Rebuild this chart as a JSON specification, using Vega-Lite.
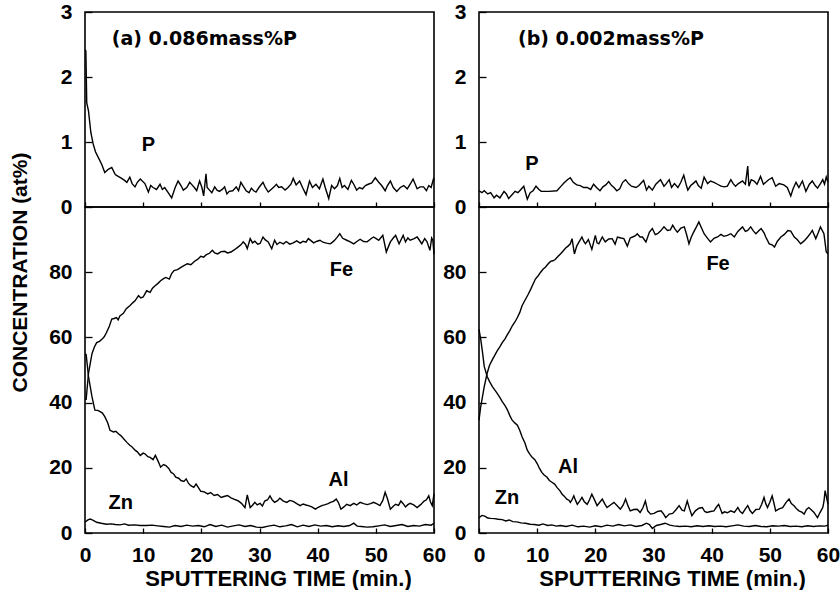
{
  "$schema": "https://vega.github.io/schema/vega-lite/v6.json",
  "background": "white",
  "padding": {"left": 8, "top": 0, "right": 0, "bottom": 0},
  "spacing": -6,
  "datasets": {
    "Pa": [{"t":0,"v":2.42},{"t":0.15,"v":2.4},{"t":0.3,"v":1.6},{"t":0.6,"v":1.48},{"t":1.0,"v":1.15},{"t":1.4,"v":0.97},{"t":1.8,"v":0.85},{"t":2.3,"v":0.76},{"t":2.9,"v":0.65},{"t":3.4,"v":0.53},{"t":4.0,"v":0.58},{"t":4.6,"v":0.61},{"t":5.2,"v":0.5},{"t":5.7,"v":0.47},{"t":6.3,"v":0.44},{"t":6.8,"v":0.41},{"t":7.2,"v":0.38},{"t":7.7,"v":0.46},{"t":8.1,"v":0.36},{"t":8.6,"v":0.31},{"t":9.0,"v":0.38},{"t":9.5,"v":0.43},{"t":10.3,"v":0.36},{"t":10.9,"v":0.23},{"t":11.3,"v":0.33},{"t":11.7,"v":0.3},{"t":12.3,"v":0.27},{"t":12.9,"v":0.35},{"t":13.3,"v":0.27},{"t":13.7,"v":0.3},{"t":14.3,"v":0.22},{"t":14.9,"v":0.14},{"t":15.5,"v":0.3},{"t":16.0,"v":0.4},{"t":16.5,"v":0.33},{"t":16.9,"v":0.26},{"t":17.5,"v":0.3},{"t":18.0,"v":0.38},{"t":18.4,"v":0.34},{"t":18.8,"v":0.3},{"t":19.2,"v":0.25},{"t":19.7,"v":0.4},{"t":20.1,"v":0.3},{"t":20.4,"v":0.17},{"t":20.8,"v":0.51},{"t":21.0,"v":0.3},{"t":21.4,"v":0.26},{"t":21.8,"v":0.22},{"t":22.3,"v":0.31},{"t":22.7,"v":0.26},{"t":23.1,"v":0.24},{"t":23.6,"v":0.27},{"t":24.0,"v":0.31},{"t":24.4,"v":0.2},{"t":24.8,"v":0.24},{"t":25.4,"v":0.25},{"t":26.0,"v":0.31},{"t":26.4,"v":0.25},{"t":26.8,"v":0.38},{"t":27.2,"v":0.32},{"t":27.7,"v":0.25},{"t":28.2,"v":0.22},{"t":28.6,"v":0.29},{"t":29.0,"v":0.25},{"t":29.4,"v":0.23},{"t":29.9,"v":0.3},{"t":30.6,"v":0.38},{"t":31.0,"v":0.3},{"t":31.5,"v":0.23},{"t":32.0,"v":0.27},{"t":32.5,"v":0.31},{"t":32.9,"v":0.35},{"t":33.3,"v":0.3},{"t":33.8,"v":0.31},{"t":34.4,"v":0.26},{"t":34.9,"v":0.3},{"t":35.4,"v":0.35},{"t":35.8,"v":0.44},{"t":36.3,"v":0.34},{"t":36.9,"v":0.4},{"t":37.4,"v":0.3},{"t":38.0,"v":0.19},{"t":38.6,"v":0.4},{"t":39.1,"v":0.3},{"t":39.7,"v":0.35},{"t":40.3,"v":0.28},{"t":40.9,"v":0.43},{"t":41.3,"v":0.3},{"t":41.9,"v":0.13},{"t":42.4,"v":0.33},{"t":42.9,"v":0.28},{"t":43.4,"v":0.33},{"t":43.8,"v":0.44},{"t":44.2,"v":0.3},{"t":44.6,"v":0.33},{"t":45.2,"v":0.27},{"t":45.8,"v":0.41},{"t":46.2,"v":0.35},{"t":46.7,"v":0.26},{"t":47.2,"v":0.3},{"t":47.7,"v":0.28},{"t":48.2,"v":0.33},{"t":48.7,"v":0.35},{"t":49.3,"v":0.37},{"t":49.9,"v":0.45},{"t":50.5,"v":0.38},{"t":51.0,"v":0.33},{"t":51.6,"v":0.25},{"t":52.0,"v":0.33},{"t":52.5,"v":0.4},{"t":53.0,"v":0.3},{"t":53.6,"v":0.24},{"t":54.2,"v":0.3},{"t":54.8,"v":0.33},{"t":55.4,"v":0.28},{"t":55.9,"v":0.35},{"t":56.4,"v":0.43},{"t":57.1,"v":0.28},{"t":57.6,"v":0.31},{"t":58.2,"v":0.31},{"t":58.7,"v":0.25},{"t":59.1,"v":0.33},{"t":59.5,"v":0.3},{"t":59.9,"v":0.43},{"t":60,"v":0.4}],
    "Pb": [{"t":0,"v":0.25},{"t":0.5,"v":0.22},{"t":0.9,"v":0.25},{"t":1.5,"v":0.2},{"t":2.0,"v":0.22},{"t":2.6,"v":0.14},{"t":3.0,"v":0.18},{"t":3.6,"v":0.14},{"t":4.3,"v":0.24},{"t":4.7,"v":0.2},{"t":5.1,"v":0.13},{"t":5.6,"v":0.18},{"t":6.2,"v":0.24},{"t":6.7,"v":0.22},{"t":7.2,"v":0.27},{"t":7.7,"v":0.32},{"t":8.3,"v":0.12},{"t":8.8,"v":0.22},{"t":9.3,"v":0.25},{"t":9.8,"v":0.32},{"t":10.3,"v":0.27},{"t":10.7,"v":0.24},{"t":12.0,"v":0.24},{"t":13.4,"v":0.25},{"t":14.0,"v":0.31},{"t":14.6,"v":0.37},{"t":15.2,"v":0.42},{"t":15.7,"v":0.45},{"t":16.2,"v":0.38},{"t":16.8,"v":0.34},{"t":17.4,"v":0.33},{"t":18.0,"v":0.3},{"t":18.6,"v":0.3},{"t":19.2,"v":0.27},{"t":19.7,"v":0.35},{"t":20.2,"v":0.3},{"t":20.8,"v":0.25},{"t":21.3,"v":0.31},{"t":21.8,"v":0.34},{"t":22.3,"v":0.39},{"t":22.8,"v":0.33},{"t":23.2,"v":0.3},{"t":23.7,"v":0.25},{"t":24.2,"v":0.28},{"t":24.7,"v":0.38},{"t":25.2,"v":0.42},{"t":25.7,"v":0.36},{"t":26.2,"v":0.32},{"t":27.0,"v":0.3},{"t":27.5,"v":0.33},{"t":28.0,"v":0.38},{"t":28.3,"v":0.41},{"t":28.8,"v":0.26},{"t":29.2,"v":0.32},{"t":29.8,"v":0.26},{"t":30.4,"v":0.35},{"t":31.2,"v":0.42},{"t":31.8,"v":0.32},{"t":32.2,"v":0.36},{"t":32.7,"v":0.42},{"t":33.1,"v":0.3},{"t":33.6,"v":0.36},{"t":34.2,"v":0.3},{"t":34.7,"v":0.38},{"t":35.2,"v":0.49},{"t":35.6,"v":0.35},{"t":35.9,"v":0.26},{"t":36.4,"v":0.33},{"t":36.8,"v":0.36},{"t":37.3,"v":0.4},{"t":37.7,"v":0.33},{"t":38.2,"v":0.29},{"t":38.7,"v":0.46},{"t":39.3,"v":0.36},{"t":39.8,"v":0.4},{"t":40.4,"v":0.38},{"t":41.0,"v":0.35},{"t":41.6,"v":0.32},{"t":42.2,"v":0.31},{"t":42.7,"v":0.32},{"t":43.3,"v":0.42},{"t":43.7,"v":0.36},{"t":44.1,"v":0.32},{"t":44.6,"v":0.36},{"t":45.3,"v":0.4},{"t":45.8,"v":0.35},{"t":46.2,"v":0.63},{"t":46.4,"v":0.32},{"t":46.8,"v":0.42},{"t":47.3,"v":0.4},{"t":47.8,"v":0.35},{"t":48.4,"v":0.47},{"t":48.9,"v":0.35},{"t":49.3,"v":0.38},{"t":49.8,"v":0.42},{"t":50.4,"v":0.45},{"t":51.0,"v":0.32},{"t":51.6,"v":0.36},{"t":52.4,"v":0.34},{"t":53.0,"v":0.3},{"t":53.6,"v":0.17},{"t":54.0,"v":0.28},{"t":54.5,"v":0.38},{"t":55.0,"v":0.3},{"t":55.6,"v":0.4},{"t":56.2,"v":0.24},{"t":56.8,"v":0.35},{"t":57.3,"v":0.4},{"t":57.8,"v":0.33},{"t":58.2,"v":0.29},{"t":58.7,"v":0.36},{"t":59.1,"v":0.42},{"t":59.4,"v":0.35},{"t":59.7,"v":0.46},{"t":60,"v":0.38}],
    "FeA": [{"t":0,"v":41},{"t":0.2,"v":41},{"t":0.6,"v":49},{"t":1.2,"v":55},{"t":1.6,"v":57},{"t":2.0,"v":58.4},{"t":2.5,"v":58.8},{"t":2.9,"v":59.4},{"t":3.3,"v":60.2},{"t":3.7,"v":61.5},{"t":4.2,"v":63.5},{"t":4.6,"v":65.6},{"t":5.0,"v":65.8},{"t":5.4,"v":66.1},{"t":5.7,"v":65.4},{"t":6.0,"v":66.6},{"t":6.6,"v":67.4},{"t":7.1,"v":68.8},{"t":7.7,"v":69.7},{"t":8.2,"v":70.6},{"t":8.6,"v":71.2},{"t":9.2,"v":72.8},{"t":9.6,"v":72.1},{"t":10.0,"v":72.4},{"t":10.6,"v":74.3},{"t":11.2,"v":73.8},{"t":11.6,"v":75.1},{"t":12.1,"v":75.9},{"t":12.5,"v":76.5},{"t":13.0,"v":77.4},{"t":13.5,"v":78.0},{"t":13.9,"v":78.4},{"t":14.5,"v":77.9},{"t":14.9,"v":79.6},{"t":15.3,"v":80.5},{"t":15.9,"v":80.8},{"t":16.5,"v":81.5},{"t":17.0,"v":82.0},{"t":17.6,"v":82.6},{"t":18.2,"v":82.3},{"t":18.8,"v":83.3},{"t":19.4,"v":84.0},{"t":19.9,"v":84.9},{"t":20.4,"v":84.6},{"t":20.8,"v":85.3},{"t":21.4,"v":85.8},{"t":21.9,"v":86.7},{"t":22.3,"v":85.9},{"t":22.8,"v":85.6},{"t":23.4,"v":86.3},{"t":24.0,"v":86.4},{"t":24.5,"v":85.9},{"t":25.1,"v":86.2},{"t":25.7,"v":86.9},{"t":26.3,"v":87.7},{"t":26.8,"v":88.4},{"t":27.2,"v":89.3},{"t":27.6,"v":88.5},{"t":27.9,"v":87.2},{"t":28.4,"v":90.3},{"t":28.8,"v":89.0},{"t":29.2,"v":89.5},{"t":29.7,"v":88.6},{"t":30.1,"v":88.8},{"t":30.6,"v":90.8},{"t":31.0,"v":89.9},{"t":31.5,"v":89.3},{"t":32.1,"v":87.2},{"t":32.6,"v":89.8},{"t":33.0,"v":88.5},{"t":33.5,"v":89.2},{"t":34.1,"v":88.7},{"t":34.6,"v":89.4},{"t":35.2,"v":88.6},{"t":35.8,"v":89.0},{"t":36.4,"v":89.6},{"t":37.0,"v":88.9},{"t":37.5,"v":89.5},{"t":38.0,"v":89.2},{"t":38.4,"v":90.3},{"t":38.9,"v":89.6},{"t":39.3,"v":89.0},{"t":39.9,"v":89.5},{"t":40.4,"v":89.8},{"t":40.9,"v":89.2},{"t":41.5,"v":88.9},{"t":42.2,"v":88.7},{"t":42.8,"v":89.6},{"t":43.3,"v":90.6},{"t":43.8,"v":91.8},{"t":44.3,"v":90.4},{"t":45.0,"v":89.8},{"t":45.6,"v":89.3},{"t":46.2,"v":88.7},{"t":46.8,"v":89.5},{"t":47.3,"v":90.1},{"t":47.9,"v":89.4},{"t":48.5,"v":89.3},{"t":49.1,"v":90.2},{"t":49.6,"v":90.8},{"t":50.0,"v":90.4},{"t":50.5,"v":89.8},{"t":51.2,"v":91.3},{"t":51.8,"v":86.2},{"t":52.2,"v":88.0},{"t":52.5,"v":89.3},{"t":53.0,"v":90.5},{"t":53.4,"v":91.3},{"t":54.0,"v":88.7},{"t":54.4,"v":90.2},{"t":54.7,"v":91.3},{"t":55.1,"v":89.3},{"t":55.5,"v":90.5},{"t":55.9,"v":89.8},{"t":56.5,"v":90.2},{"t":57.1,"v":90.8},{"t":57.5,"v":89.8},{"t":57.9,"v":88.7},{"t":58.4,"v":90.3},{"t":58.8,"v":89.3},{"t":59.3,"v":86.7},{"t":59.6,"v":90.5},{"t":59.8,"v":89.8},{"t":60,"v":85.5}],
    "AlA": [{"t":0,"v":55},{"t":0.2,"v":54.7},{"t":0.6,"v":48},{"t":1.2,"v":41.8},{"t":1.7,"v":37.7},{"t":2.2,"v":37.6},{"t":2.6,"v":37.2},{"t":3.0,"v":36.8},{"t":3.4,"v":35.7},{"t":3.9,"v":33.8},{"t":4.3,"v":31.5},{"t":4.9,"v":31.0},{"t":5.3,"v":31.2},{"t":5.7,"v":30.5},{"t":6.2,"v":29.8},{"t":6.6,"v":29.0},{"t":7.2,"v":27.8},{"t":7.7,"v":26.9},{"t":8.1,"v":26.4},{"t":8.6,"v":25.4},{"t":9.0,"v":24.9},{"t":9.5,"v":23.8},{"t":10.0,"v":24.5},{"t":10.3,"v":24.3},{"t":10.8,"v":23.4},{"t":11.2,"v":23.2},{"t":11.7,"v":22.5},{"t":12.1,"v":23.8},{"t":12.6,"v":21.9},{"t":13.0,"v":20.2},{"t":13.5,"v":21.0},{"t":13.9,"v":20.7},{"t":14.4,"v":19.8},{"t":14.8,"v":18.6},{"t":15.2,"v":18.2},{"t":15.6,"v":17.1},{"t":16.1,"v":16.8},{"t":16.5,"v":16.1},{"t":17.0,"v":15.8},{"t":17.4,"v":16.6},{"t":17.8,"v":15.2},{"t":18.2,"v":14.5},{"t":18.7,"v":14.0},{"t":19.1,"v":15.0},{"t":19.5,"v":13.9},{"t":19.9,"v":12.8},{"t":20.5,"v":12.6},{"t":21.1,"v":12.0},{"t":21.6,"v":12.4},{"t":22.2,"v":11.5},{"t":22.8,"v":11.8},{"t":23.4,"v":10.9},{"t":23.9,"v":11.2},{"t":24.5,"v":11.5},{"t":25.1,"v":10.8},{"t":25.7,"v":10.3},{"t":26.3,"v":9.9},{"t":26.9,"v":9.1},{"t":27.5,"v":7.8},{"t":27.9,"v":11.7},{"t":28.4,"v":7.8},{"t":28.8,"v":8.5},{"t":29.2,"v":9.4},{"t":29.6,"v":8.6},{"t":30.1,"v":9.1},{"t":30.5,"v":8.3},{"t":30.9,"v":9.8},{"t":31.4,"v":10.2},{"t":31.8,"v":11.4},{"t":32.2,"v":10.1},{"t":32.6,"v":9.4},{"t":33.1,"v":9.9},{"t":33.5,"v":10.7},{"t":34.1,"v":9.8},{"t":34.7,"v":9.4},{"t":35.2,"v":10.0},{"t":35.8,"v":9.7},{"t":36.4,"v":9.0},{"t":37.0,"v":8.4},{"t":37.5,"v":8.9},{"t":38.0,"v":8.6},{"t":38.4,"v":8.4},{"t":39.0,"v":8.0},{"t":39.6,"v":7.3},{"t":40.1,"v":7.9},{"t":40.7,"v":8.4},{"t":41.3,"v":8.7},{"t":41.8,"v":9.0},{"t":42.2,"v":9.4},{"t":42.7,"v":9.7},{"t":43.2,"v":10.4},{"t":43.6,"v":9.2},{"t":44.0,"v":7.3},{"t":44.5,"v":8.0},{"t":45.0,"v":8.8},{"t":45.6,"v":8.4},{"t":46.2,"v":9.1},{"t":46.7,"v":8.6},{"t":47.3,"v":9.4},{"t":47.9,"v":9.0},{"t":48.5,"v":8.7},{"t":49.1,"v":9.0},{"t":49.6,"v":9.4},{"t":50.2,"v":8.9},{"t":50.7,"v":8.4},{"t":51.2,"v":10.0},{"t":51.6,"v":12.5},{"t":52.0,"v":10.5},{"t":52.5,"v":7.3},{"t":53.0,"v":8.2},{"t":53.4,"v":8.8},{"t":53.9,"v":8.5},{"t":54.3,"v":9.8},{"t":54.7,"v":9.0},{"t":55.1,"v":8.0},{"t":55.5,"v":8.7},{"t":55.9,"v":9.1},{"t":56.5,"v":8.6},{"t":57.1,"v":7.8},{"t":57.7,"v":8.7},{"t":58.3,"v":9.8},{"t":58.7,"v":10.2},{"t":59.1,"v":11.4},{"t":59.4,"v":9.5},{"t":59.7,"v":8.4},{"t":60,"v":12}],
    "ZnA": [{"t":0,"v":3.3},{"t":0.5,"v":4.0},{"t":0.9,"v":4.3},{"t":1.5,"v":3.8},{"t":2.0,"v":3.3},{"t":2.8,"v":3.0},{"t":3.7,"v":2.7},{"t":4.5,"v":2.8},{"t":5.2,"v":2.6},{"t":6.0,"v":2.5},{"t":6.8,"v":2.8},{"t":7.5,"v":2.4},{"t":8.5,"v":2.5},{"t":9.5,"v":2.3},{"t":10.6,"v":2.3},{"t":11.5,"v":2.4},{"t":12.5,"v":2.2},{"t":13.5,"v":2.0},{"t":14.5,"v":1.8},{"t":15.5,"v":2.3},{"t":16.5,"v":2.0},{"t":17.5,"v":2.4},{"t":18.5,"v":2.1},{"t":19.5,"v":2.3},{"t":20.5,"v":1.9},{"t":21.5,"v":2.6},{"t":22.5,"v":2.0},{"t":23.5,"v":2.4},{"t":24.5,"v":1.8},{"t":25.5,"v":2.2},{"t":26.5,"v":2.5},{"t":27.5,"v":2.0},{"t":28.5,"v":2.3},{"t":29.5,"v":1.8},{"t":30.5,"v":1.7},{"t":31.5,"v":2.1},{"t":32.5,"v":2.4},{"t":33.5,"v":1.9},{"t":34.5,"v":2.2},{"t":35.5,"v":2.6},{"t":36.5,"v":1.9},{"t":37.5,"v":2.4},{"t":38.5,"v":2.0},{"t":39.5,"v":2.5},{"t":40.5,"v":2.1},{"t":41.5,"v":2.3},{"t":42.5,"v":1.9},{"t":43.5,"v":2.2},{"t":44.5,"v":2.0},{"t":45.5,"v":2.3},{"t":46.2,"v":3.0},{"t":46.8,"v":2.1},{"t":47.5,"v":2.0},{"t":48.5,"v":1.8},{"t":49.5,"v":1.9},{"t":50.5,"v":2.2},{"t":51.5,"v":2.5},{"t":52.5,"v":2.0},{"t":53.5,"v":2.3},{"t":54.5,"v":2.6},{"t":55.5,"v":2.0},{"t":56.5,"v":2.3},{"t":57.5,"v":2.1},{"t":58.5,"v":2.6},{"t":59.5,"v":2.4},{"t":60,"v":3.0}],
    "FeB": [{"t":0,"v":34.6},{"t":0.3,"v":38.8},{"t":0.9,"v":44.9},{"t":1.4,"v":49},{"t":1.8,"v":51.4},{"t":2.3,"v":53.2},{"t":2.7,"v":54.5},{"t":3.1,"v":55.8},{"t":3.6,"v":57.2},{"t":4.0,"v":58.4},{"t":4.5,"v":59.6},{"t":4.9,"v":60.9},{"t":5.3,"v":62.1},{"t":5.7,"v":63.5},{"t":6.2,"v":64.8},{"t":6.6,"v":66.1},{"t":7.0,"v":67.6},{"t":7.4,"v":69.7},{"t":8.0,"v":71.7},{"t":8.4,"v":73.0},{"t":8.9,"v":74.8},{"t":9.3,"v":76.4},{"t":9.7,"v":77.9},{"t":10.2,"v":79.0},{"t":10.6,"v":80.0},{"t":11.0,"v":80.9},{"t":11.4,"v":81.5},{"t":11.9,"v":82.6},{"t":12.3,"v":83.3},{"t":12.7,"v":83.5},{"t":13.1,"v":83.9},{"t":13.6,"v":84.9},{"t":14.0,"v":85.6},{"t":14.5,"v":86.6},{"t":14.9,"v":87.4},{"t":15.3,"v":88.0},{"t":15.7,"v":88.7},{"t":16.0,"v":90.3},{"t":16.4,"v":85.6},{"t":16.8,"v":88.0},{"t":17.2,"v":89.3},{"t":17.7,"v":90.8},{"t":18.0,"v":89.5},{"t":18.3,"v":88.7},{"t":18.8,"v":90.0},{"t":19.4,"v":87.0},{"t":20.0,"v":91.3},{"t":20.3,"v":89.0},{"t":20.6,"v":88.7},{"t":21.2,"v":90.8},{"t":21.7,"v":89.3},{"t":22.3,"v":90.2},{"t":22.9,"v":90.3},{"t":23.4,"v":88.6},{"t":23.8,"v":90.8},{"t":24.4,"v":90.5},{"t":24.9,"v":90.3},{"t":25.5,"v":88.0},{"t":26.0,"v":90.5},{"t":26.4,"v":90.8},{"t":26.9,"v":91.2},{"t":27.2,"v":91.8},{"t":27.7,"v":90.8},{"t":28.1,"v":90.8},{"t":28.7,"v":89.3},{"t":29.3,"v":92.3},{"t":29.8,"v":93.4},{"t":30.3,"v":91.5},{"t":30.7,"v":91.8},{"t":31.2,"v":92.6},{"t":31.8,"v":93.9},{"t":32.4,"v":92.8},{"t":32.9,"v":93.0},{"t":33.3,"v":94.4},{"t":33.7,"v":93.2},{"t":34.1,"v":92.3},{"t":34.7,"v":93.5},{"t":35.3,"v":93.9},{"t":35.7,"v":91.5},{"t":36.1,"v":88.7},{"t":36.5,"v":90.8},{"t":36.9,"v":92.3},{"t":37.4,"v":94.0},{"t":37.8,"v":95.4},{"t":38.2,"v":93.8},{"t":38.7,"v":91.8},{"t":39.2,"v":90.6},{"t":39.8,"v":89.3},{"t":40.4,"v":90.4},{"t":41.0,"v":90.8},{"t":41.6,"v":91.6},{"t":42.1,"v":91.0},{"t":42.7,"v":91.3},{"t":43.3,"v":91.8},{"t":43.9,"v":90.8},{"t":44.5,"v":92.5},{"t":45.3,"v":93.9},{"t":45.8,"v":92.5},{"t":46.2,"v":92.8},{"t":46.7,"v":93.9},{"t":47.2,"v":92.6},{"t":47.6,"v":91.8},{"t":48.1,"v":92.7},{"t":48.5,"v":93.4},{"t":49.0,"v":92.1},{"t":49.3,"v":90.8},{"t":49.9,"v":88.7},{"t":50.4,"v":88.4},{"t":50.8,"v":87.7},{"t":51.3,"v":89.5},{"t":51.9,"v":90.8},{"t":52.5,"v":91.6},{"t":53.1,"v":92.8},{"t":53.6,"v":92.6},{"t":54.2,"v":90.8},{"t":54.7,"v":90.0},{"t":55.3,"v":88.7},{"t":55.9,"v":89.6},{"t":56.5,"v":90.8},{"t":57.0,"v":92.0},{"t":57.3,"v":92.8},{"t":57.9,"v":90.3},{"t":58.3,"v":92.0},{"t":58.7,"v":93.9},{"t":59.3,"v":91.8},{"t":59.7,"v":86.2},{"t":60,"v":85.7}],
    "AlB": [{"t":0,"v":62.5},{"t":0.3,"v":59.4},{"t":0.6,"v":55.5},{"t":0.9,"v":51.1},{"t":1.4,"v":48},{"t":1.8,"v":46.5},{"t":2.3,"v":44.9},{"t":2.7,"v":43.9},{"t":3.1,"v":42.9},{"t":3.6,"v":41.5},{"t":4.0,"v":40.3},{"t":4.5,"v":39.0},{"t":4.9,"v":37.7},{"t":5.3,"v":36.0},{"t":5.7,"v":34.6},{"t":6.2,"v":33.7},{"t":6.6,"v":33.1},{"t":7.0,"v":31.5},{"t":7.4,"v":29.5},{"t":7.9,"v":27.6},{"t":8.3,"v":25.4},{"t":8.7,"v":24.3},{"t":9.1,"v":23.3},{"t":9.6,"v":22.5},{"t":10.0,"v":21.3},{"t":10.4,"v":19.8},{"t":10.8,"v":18.6},{"t":11.2,"v":17.8},{"t":11.7,"v":17.1},{"t":12.1,"v":16.1},{"t":12.6,"v":15.5},{"t":13.0,"v":15.0},{"t":13.4,"v":14.0},{"t":13.9,"v":13.0},{"t":14.3,"v":11.9},{"t":14.7,"v":11.2},{"t":15.1,"v":10.4},{"t":15.5,"v":10.0},{"t":15.7,"v":9.4},{"t":16.0,"v":10.2},{"t":16.3,"v":11.4},{"t":16.6,"v":10.0},{"t":16.9,"v":8.8},{"t":17.3,"v":9.8},{"t":17.7,"v":10.9},{"t":18.1,"v":9.6},{"t":18.6,"v":8.8},{"t":19.0,"v":10.2},{"t":19.4,"v":11.9},{"t":19.9,"v":10.0},{"t":20.3,"v":8.4},{"t":20.8,"v":9.5},{"t":21.2,"v":10.4},{"t":21.6,"v":9.0},{"t":22.0,"v":7.8},{"t":22.6,"v":8.6},{"t":23.2,"v":9.4},{"t":23.8,"v":8.3},{"t":24.3,"v":7.3},{"t":24.8,"v":8.6},{"t":25.2,"v":10.4},{"t":25.6,"v":8.4},{"t":26.0,"v":6.8},{"t":26.6,"v":7.2},{"t":27.2,"v":7.3},{"t":27.7,"v":6.3},{"t":28.2,"v":7.8},{"t":28.6,"v":9.8},{"t":29.0,"v":6.8},{"t":29.5,"v":5.8},{"t":30.1,"v":6.0},{"t":30.7,"v":6.6},{"t":31.3,"v":6.8},{"t":31.7,"v":5.9},{"t":32.1,"v":4.7},{"t":32.7,"v":5.8},{"t":33.3,"v":6.0},{"t":33.9,"v":7.2},{"t":34.4,"v":8.4},{"t":34.9,"v":7.0},{"t":35.3,"v":6.8},{"t":35.8,"v":9.8},{"t":36.2,"v":7.4},{"t":36.6,"v":5.3},{"t":37.2,"v":6.8},{"t":37.8,"v":7.6},{"t":38.4,"v":7.8},{"t":38.8,"v":6.6},{"t":39.2,"v":6.3},{"t":39.8,"v":6.6},{"t":40.4,"v":6.8},{"t":40.8,"v":7.9},{"t":41.2,"v":8.8},{"t":41.8,"v":6.0},{"t":42.2,"v":6.5},{"t":42.7,"v":6.2},{"t":43.3,"v":6.8},{"t":43.9,"v":6.3},{"t":44.5,"v":7.8},{"t":44.9,"v":6.6},{"t":45.3,"v":6.0},{"t":45.8,"v":7.4},{"t":46.2,"v":8.4},{"t":46.6,"v":6.9},{"t":47.0,"v":6.0},{"t":47.6,"v":7.2},{"t":48.2,"v":7.3},{"t":48.6,"v":8.8},{"t":49.0,"v":10.9},{"t":49.3,"v":9.0},{"t":49.6,"v":7.8},{"t":50.0,"v":9.4},{"t":50.4,"v":11.4},{"t":50.7,"v":9.2},{"t":51.0,"v":6.8},{"t":51.6,"v":7.4},{"t":52.2,"v":7.8},{"t":52.8,"v":9.4},{"t":53.3,"v":10.4},{"t":53.7,"v":9.0},{"t":54.2,"v":8.3},{"t":54.6,"v":7.4},{"t":55.0,"v":6.8},{"t":55.5,"v":6.4},{"t":55.9,"v":5.8},{"t":56.3,"v":7.2},{"t":56.7,"v":7.8},{"t":57.2,"v":7.0},{"t":57.6,"v":6.3},{"t":57.9,"v":5.5},{"t":58.2,"v":4.7},{"t":58.6,"v":6.2},{"t":59.1,"v":7.8},{"t":59.3,"v":9.6},{"t":59.5,"v":13.0},{"t":59.8,"v":10.5},{"t":60,"v":8.8}],
    "ZnB": [{"t":0,"v":4.7},{"t":0.5,"v":5.4},{"t":1.0,"v":5.2},{"t":1.5,"v":4.6},{"t":2.0,"v":4.5},{"t":2.7,"v":4.4},{"t":3.3,"v":4.2},{"t":4.0,"v":4.1},{"t":4.6,"v":3.7},{"t":5.2,"v":4.0},{"t":5.8,"v":3.5},{"t":6.5,"v":3.4},{"t":7.2,"v":3.1},{"t":8.0,"v":3.0},{"t":8.8,"v":2.7},{"t":9.5,"v":2.6},{"t":10.3,"v":2.4},{"t":11.0,"v":2.8},{"t":11.8,"v":2.3},{"t":12.5,"v":2.5},{"t":13.3,"v":2.1},{"t":14.0,"v":2.3},{"t":15.0,"v":2.0},{"t":16.0,"v":2.4},{"t":17.0,"v":1.9},{"t":18.0,"v":2.1},{"t":19.0,"v":1.8},{"t":20.0,"v":2.2},{"t":21.0,"v":1.9},{"t":22.0,"v":2.4},{"t":23.0,"v":2.1},{"t":24.0,"v":2.6},{"t":25.0,"v":2.2},{"t":26.0,"v":2.5},{"t":27.0,"v":2.0},{"t":28.0,"v":2.3},{"t":28.8,"v":3.0},{"t":29.3,"v":2.6},{"t":29.8,"v":1.4},{"t":30.5,"v":2.3},{"t":31.2,"v":2.6},{"t":32.0,"v":3.0},{"t":32.8,"v":2.4},{"t":33.5,"v":2.2},{"t":34.5,"v":2.0},{"t":35.5,"v":2.1},{"t":36.5,"v":1.9},{"t":37.5,"v":2.2},{"t":38.5,"v":2.0},{"t":39.5,"v":2.2},{"t":40.5,"v":2.0},{"t":41.5,"v":2.1},{"t":42.5,"v":1.9},{"t":43.5,"v":2.2},{"t":44.5,"v":2.5},{"t":45.5,"v":2.1},{"t":46.5,"v":2.0},{"t":47.5,"v":2.3},{"t":48.5,"v":2.0},{"t":49.5,"v":1.9},{"t":50.5,"v":2.2},{"t":51.5,"v":2.1},{"t":52.5,"v":2.3},{"t":53.5,"v":2.0},{"t":54.5,"v":2.1},{"t":55.5,"v":1.9},{"t":56.5,"v":2.2},{"t":57.5,"v":2.0},{"t":58.5,"v":2.2},{"t":59.5,"v":2.1},{"t":60,"v":2.4}]
  },
  "hconcat": [
    {
      "vconcat": [
        {
          "width": 349, "height": 195,
          "layer": [
            {"data": {"name": "Pa"}, "mark": {"type": "line"},
             "encoding": {
               "x": {"field": "t", "type": "quantitative", "scale": {"domain": [0, 60], "nice": false},
                     "axis": {"values": [0,10,20,30,40,50,60], "labels": false, "title": null, "tickSize": -5}},
               "y": {"field": "v", "type": "quantitative", "scale": {"domain": [0, 3], "nice": false},
                     "axis": {"values": [0,0.5,1,1.5,2,2.5,3], "labelExpr": "datum.value % 1 === 0 ? format(datum.value, 'd') : ''", "title": null, "tickSize": -7, "labelPadding": 20}}
             }},
            {"data": {"values": [{}]}, "mark": {"type": "text", "text": "(a) 0.086mass%P", "align": "left", "baseline": "middle", "font": "DejaVu Sans", "fontSize": 19},
             "encoding": {"x": {"datum": 4.6, "type": "quantitative"}, "y": {"datum": 2.58, "type": "quantitative"}}},
            {"data": {"values": [{}]}, "mark": {"type": "text", "text": "P"},
             "encoding": {"x": {"datum": 10.9, "type": "quantitative"}, "y": {"datum": 0.96, "type": "quantitative"}}}
          ]
        },
        {
          "width": 349, "height": 326,
          "layer": [
            {"data": {"name": "FeA"}, "mark": {"type": "line"},
             "encoding": {
               "x": {"field": "t", "type": "quantitative", "scale": {"domain": [0, 60], "nice": false},
                     "axis": {"values": [0,10,20,30,40,50,60], "tickSize": -5, "labelPadding": 16, "labelFlush": false,
                              "title": "SPUTTERING TIME (min.)", "titleFontSize": 22, "titleX": 193, "titleY": 45, "titleBaseline": "middle", "titleAlign": "center"}},
               "y": {"field": "v", "type": "quantitative", "scale": {"domain": [0, 100], "nice": false},
                     "axis": {"values": [0,10,20,30,40,50,60,70,80,90], "labelExpr": "datum.value % 20 === 0 ? datum.label : ''", "tickSize": -7, "labelPadding": 20,
                              "title": "CONCENTRATION (at%)", "titleFontSize": 21, "titleX": -65, "titleY": 65, "titleAngle": -90, "titleAlign": "center", "titleBaseline": "middle"}}
             }},
            {"data": {"name": "AlA"}, "mark": {"type": "line"},
             "encoding": {"x": {"field": "t", "type": "quantitative"}, "y": {"field": "v", "type": "quantitative"}}},
            {"data": {"name": "ZnA"}, "mark": {"type": "line"},
             "encoding": {"x": {"field": "t", "type": "quantitative"}, "y": {"field": "v", "type": "quantitative"}}},
            {"data": {"values": [{}]}, "mark": {"type": "text", "text": "Fe"},
             "encoding": {"x": {"datum": 44.1, "type": "quantitative"}, "y": {"datum": 80.8, "type": "quantitative"}}},
            {"data": {"values": [{}]}, "mark": {"type": "text", "text": "Al"},
             "encoding": {"x": {"datum": 43.6, "type": "quantitative"}, "y": {"datum": 16.3, "type": "quantitative"}}},
            {"data": {"values": [{}]}, "mark": {"type": "text", "text": "Zn"},
             "encoding": {"x": {"datum": 6.15, "type": "quantitative"}, "y": {"datum": 9.1, "type": "quantitative"}}}
          ]
        }
      ],
      "spacing": 0,
      "bounds": "flush"
    },
    {
      "vconcat": [
        {
          "width": 349, "height": 195,
          "layer": [
            {"data": {"name": "Pb"}, "mark": {"type": "line"},
             "encoding": {
               "x": {"field": "t", "type": "quantitative", "scale": {"domain": [0, 60], "nice": false},
                     "axis": {"values": [0,10,20,30,40,50,60], "labels": false, "title": null, "tickSize": -5}},
               "y": {"field": "v", "type": "quantitative", "scale": {"domain": [0, 3], "nice": false},
                     "axis": {"values": [0,0.5,1,1.5,2,2.5,3], "labelExpr": "datum.value % 1 === 0 ? format(datum.value, 'd') : ''", "title": null, "tickSize": -7, "labelPadding": 20}}
             }},
            {"data": {"values": [{}]}, "mark": {"type": "text", "text": "(b) 0.002mass%P", "align": "left", "baseline": "middle", "font": "DejaVu Sans", "fontSize": 19},
             "encoding": {"x": {"datum": 6.7, "type": "quantitative"}, "y": {"datum": 2.58, "type": "quantitative"}}},
            {"data": {"values": [{}]}, "mark": {"type": "text", "text": "P"},
             "encoding": {"x": {"datum": 9.1, "type": "quantitative"}, "y": {"datum": 0.66, "type": "quantitative"}}}
          ]
        },
        {
          "width": 349, "height": 326,
          "layer": [
            {"data": {"name": "FeB"}, "mark": {"type": "line"},
             "encoding": {
               "x": {"field": "t", "type": "quantitative", "scale": {"domain": [0, 60], "nice": false},
                     "axis": {"values": [0,10,20,30,40,50,60], "tickSize": -5, "labelPadding": 16, "labelFlush": false,
                              "title": "SPUTTERING TIME (min.)", "titleFontSize": 22, "titleX": 193, "titleY": 45, "titleBaseline": "middle", "titleAlign": "center"}},
               "y": {"field": "v", "type": "quantitative", "scale": {"domain": [0, 100], "nice": false},
                     "axis": {"values": [0,10,20,30,40,50,60,70,80,90], "labelExpr": "datum.value % 20 === 0 ? datum.label : ''", "tickSize": -7, "labelPadding": 20, "title": null}}
             }},
            {"data": {"name": "AlB"}, "mark": {"type": "line"},
             "encoding": {"x": {"field": "t", "type": "quantitative"}, "y": {"field": "v", "type": "quantitative"}}},
            {"data": {"name": "ZnB"}, "mark": {"type": "line"},
             "encoding": {"x": {"field": "t", "type": "quantitative"}, "y": {"field": "v", "type": "quantitative"}}},
            {"data": {"values": [{}]}, "mark": {"type": "text", "text": "Fe"},
             "encoding": {"x": {"datum": 41.1, "type": "quantitative"}, "y": {"datum": 82.6, "type": "quantitative"}}},
            {"data": {"values": [{}]}, "mark": {"type": "text", "text": "Al"},
             "encoding": {"x": {"datum": 15.3, "type": "quantitative"}, "y": {"datum": 20.2, "type": "quantitative"}}},
            {"data": {"values": [{}]}, "mark": {"type": "text", "text": "Zn"},
             "encoding": {"x": {"datum": 4.8, "type": "quantitative"}, "y": {"datum": 10.7, "type": "quantitative"}}}
          ]
        }
      ],
      "spacing": 0,
      "bounds": "flush"
    }
  ],
  "config": {
    "view": {"stroke": "black", "strokeWidth": 1.6},
    "axis": {"domain": false, "grid": false, "tickColor": "black", "tickWidth": 1.3,
             "labelColor": "black", "labelFont": "Liberation Sans", "labelFontWeight": "bold", "labelFontSize": 21,
             "titleFont": "Liberation Sans", "titleFontWeight": "bold", "titleColor": "black"},
    "line": {"color": "black", "strokeWidth": 1.4},
    "text": {"font": "Liberation Sans", "fontWeight": "bold", "fontSize": 20, "color": "black", "align": "center", "baseline": "middle"}
  }
}
